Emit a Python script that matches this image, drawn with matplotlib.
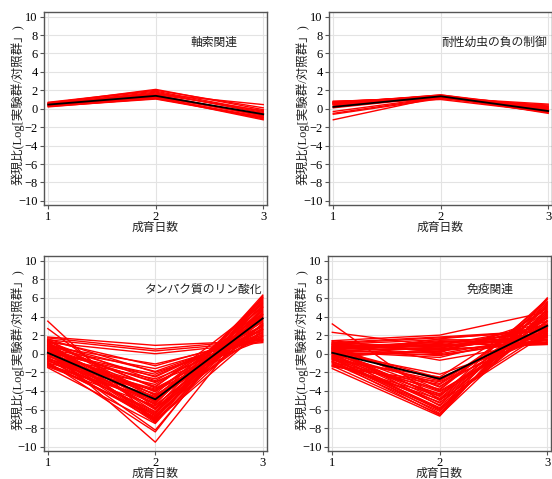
from matplotlib import pyplot as plt

# 軸索関連
axon_day1 = [0.30, 0.45, 0.55, 0.60, 0.65, 0.40, 0.35, 0.50, 0.25, 0.70, 0.45, 0.55, 0.30, 0.60, 0.50, 0.20]
axon_day2 = [1.10, 1.30, 1.60, 2.10, 1.90, 1.20, 1.50, 1.80, 1.05, 2.00, 1.40, 1.70, 1.25, 1.55, 1.35, 1.15]
axon_day3 = [-0.90, -0.70, 0.45, -0.10, -0.30, -1.20, -0.80, -0.50, -1.00, 0.10, -0.60, -0.40, -1.10, -0.20, -0.75, -0.95]
axon_mean = [0.45, 1.40, -0.60]

# 耐性幼虫の負の制御
resist_day1 = [0.8, 0.7, 0.6, 0.75, 0.5, 0.65, 0.4, 0.55, 0.7, 0.3, 0.6, 0.8, 0.45, 0.1, -0.3, -0.5, -0.6, -1.2, 0.5, 0.65]
resist_day2 = [1.2, 1.4, 1.5, 1.3, 1.1, 1.35, 1.25, 1.45, 1.15, 1.3, 1.4, 1.2, 1.35, 1.3, 1.25, 1.2, 1.1, 1.3, 1.5, 1.0]
resist_day3 = [0.5, 0.2, -0.1, -0.3, 0.0, -0.5, 0.1, -0.2, 0.3, -0.4, 0.0, -0.1, -0.3, 0.2, -0.2, -0.4, 0.4, -0.1, 0.1, -0.35]
resist_mean = [0.2, 1.35, -0.25]

# タンパク質のリン酸化
phos_day1 = [1.8, 1.7, 1.5, 1.2, 3.5, 2.7, 0.8, 1.4, 0.5, 1.0,
             0.2, 0.9, -0.3, 1.3, 0.6, -0.8, 0.0, 1.1, -1.0, 0.4,
             -0.5, 1.5, 0.7, -1.2, 0.3, -0.2, 1.0, -1.4, 0.1, 0.8,
             -0.7, 1.2, -0.4, 0.5, -1.1, 0.9, -0.6, 0.2, -1.5, 1.3,
             0.0, -0.9, 0.6, -0.3, 0.4, -1.3, 1.6, -0.1, 0.7, -0.8,
             1.1, -1.0, 0.3, -0.5, 1.4, 0.1, -0.6, 0.9, -1.2, 0.5]
phos_day2 = [0.9, 0.5, 0.3, 0.0, -7.2, -5.8, -1.1, -1.3, -1.6, -1.9,
             -2.2, -2.5, -2.7, -2.9, -3.1, -3.3, -3.5, -3.7, -3.9, -4.1,
             -4.3, -4.5, -4.7, -4.9, -5.1, -5.3, -5.5, -5.6, -5.8, -6.0,
             -6.2, -6.3, -6.5, -6.7, -6.9, -7.0, -7.2, -7.4, -7.5, -7.3,
             -8.2, -8.4, -9.5, -4.0, -3.0, -5.0, -2.0, -6.4, -5.9, -4.6,
             -3.6, -6.8, -7.1, -5.4, -4.8, -2.4, -3.8, -5.2, -6.6, -4.4]
phos_day3 = [1.4, 1.5, 1.3, 1.2, 2.6, 3.2, 1.6, 2.0, 1.8, 2.2,
             2.5, 2.9, 1.9, 3.4, 2.7, 3.8, 4.2, 2.3, 3.0, 4.6,
             5.0, 3.6, 5.4, 2.8, 4.4, 5.8, 3.1, 4.0, 6.0, 4.8,
             5.2, 3.9, 6.3, 5.6, 4.5, 5.9, 3.3, 6.1, 5.0, 4.2,
             5.5, 6.2, 4.9, 2.1, 1.5, 3.5, 1.7, 4.7, 2.4, 3.7,
             5.3, 4.3, 5.7, 6.0, 4.1, 3.0, 2.6, 5.1, 3.2, 1.9]
phos_mean = [0.1, -4.9, 3.8]

# 免疫関連
immune_day1 = [1.4, 1.2, 1.0, 0.8, 0.6, 0.5, 0.3, 0.9, 1.1, 0.7,
               0.4, 0.2, 1.3, 0.0, 0.6, 0.8, 1.0, 0.5, -0.2, 0.3,
               2.3, 0.7, 1.2, 0.1, 0.9, 0.4, 1.4, -0.4, 0.6, 1.1,
               3.2, -1.6, -1.3, -1.0, -0.8, -0.5, -0.3, 0.0, 0.2, 0.5,
               -1.2, -0.6, 0.3, -0.9, 0.7, -0.1, -1.4, 0.4, -0.7, 0.1,
               -0.4, 0.6, -1.1, -0.2, 0.8, -0.5, 0.0, -0.9, 0.2, -1.3,
               0.5, -0.6, -0.3, 1.0, -0.8]
immune_day2 = [2.0, 1.8, 1.5, 1.2, 1.0, 0.8, 0.6, 0.4, 0.2, 0.0,
               -0.2, -0.4, -0.7, 1.6, 1.3, 0.9, 0.7, 0.5, 0.3, 0.1,
               0.8, 1.1, 0.6, -0.1, 0.4, 1.4, 0.2, 0.5, 0.9, 1.7,
               -5.0, -6.7, -6.5, -6.2, -6.0, -5.8, -5.5, -5.3, -5.0, -4.8,
               -4.5, -4.3, -4.0, -3.8, -3.5, -3.2, -3.0, -2.8, -2.5, -2.2,
               -6.4, -5.6, -4.9, -4.1, -3.6, -2.9, -6.1, -5.2, -4.6, -3.3,
               -2.6, -5.9, -4.4, -3.9, -6.6]
immune_day3 = [4.5, 2.5, 1.5, 2.2, 1.0, 1.8, 2.8, 1.2, 3.5, 2.0,
               1.6, 2.4, 1.3, 2.6, 1.1, 3.0, 1.7, 2.1, 1.4, 3.8,
               2.0, 1.9, 2.7, 1.5, 2.3, 1.2, 3.2, 1.0, 1.8, 2.4,
               4.0, 6.0, 5.5, 4.8, 5.8, 3.5, 5.2, 4.5, 2.5, 5.0,
               3.8, 4.2, 2.8, 5.6, 3.2, 4.6, 2.0, 3.0, 4.9, 1.8,
               5.3, 3.6, 4.4, 2.7, 5.1, 3.4, 4.7, 2.2, 5.9, 3.9,
               2.4, 4.1, 3.1, 5.4, 4.3]
immune_mean = [0.1, -2.7, 3.0]

days = [1, 2, 3]
y_ticks = list(range(-10, 11, 2))

jp = ['Liberation Serif', 'Noto Sans CJK JP']
W, H = 552, 479

fig = plt.figure(figsize=(W / 100, H / 100), dpi=100)

panels = [
    # (left, top, bottom) in pixels, data, label, text pos, ha
    ((44, 12, 205), (axon_day1, axon_day2, axon_day3, axon_mean), '軸索関連', (2.54, 7.1), 'center'),
    ((329, 12, 205), (resist_day1, resist_day2, resist_day3, resist_mean), '耐性幼虫の負の制御', (2.01, 7.1), 'left'),
    ((43.5, 256, 451), (phos_day1, phos_day2, phos_day3, phos_mean), 'タンパク質のリン酸化', (3.0, 6.9), 'right'),
    ((328, 256, 451), (immune_day1, immune_day2, immune_day3, immune_mean), '免疫関連', (2.47, 6.9), 'center'),
]

for (left, top, bottom), (d1, d2, d3, mean), label, (tx, ty), ha in panels:
    ax = fig.add_axes([left / W, 1 - bottom / H, 223 / W, (bottom - top) / H])
    for a, b, c in zip(d1, d2, d3):
        ax.plot(days, [a, b, c], color='#ff0000', lw=1.0, zorder=2)
    ax.plot(days, mean, color='black', lw=1.3, zorder=3)

    ax.set_xlim(0.96, 3.035)
    ax.set_ylim(-10.45, 10.5)
    ax.set_xticks(days)
    ax.set_yticks(y_ticks)
    ax.grid(True, color='#e3e3e3', lw=0.8, zorder=0)
    ax.set_axisbelow(True)
    for s in ax.spines.values():
        s.set_color('#555555')
        s.set_linewidth(1.0)
    ax.tick_params(length=3, width=0.8, color='#555555', pad=1.5, labelsize=9)
    for t in ax.get_xticklabels() + ax.get_yticklabels():
        t.set_family('Liberation Serif')

    ax.set_xlabel('成育日数', family=jp, fontsize=8.5, labelpad=-1, color='#222222')
    ax.set_ylabel('発現比(Log[実験群/対照群」)', family=jp, fontsize=9, color='#222222')
    ax.yaxis.set_label_coords(-0.085, 0.52)
    ax.text(tx, ty, label, ha=ha, va='center', family=jp, fontsize=8.5, color='#222222')

fig.savefig('out.png', dpi=100)
